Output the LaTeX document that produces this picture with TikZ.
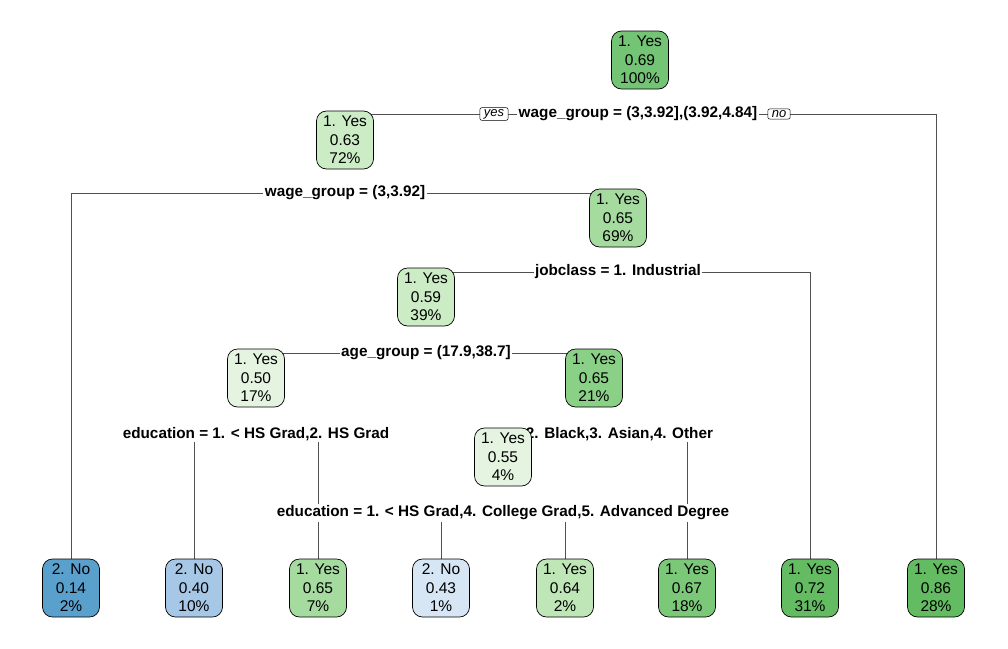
\documentclass[tikz,border=0pt]{standalone}
\usepackage{fontspec}
\setmainfont{Liberation Sans}
\pgfdeclarelayer{bg}
\pgfsetlayers{bg,main}
\definecolor{gA}{RGB}{116,196,118}
\definecolor{gB}{RGB}{204,236,198}
\definecolor{gC}{RGB}{166,219,160}
\definecolor{gD}{RGB}{229,244,225}
\definecolor{gE}{RGB}{138,208,134}
\definecolor{gF}{RGB}{190,230,182}
\definecolor{gG}{RGB}{123,200,120}
\definecolor{gH}{RGB}{99,188,97}
\definecolor{bA}{RGB}{90,160,205}
\definecolor{bB}{RGB}{166,199,229}
\definecolor{bC}{RGB}{214,230,244}
\definecolor{edge}{RGB}{80,80,80}
\tikzset{
  tnode/.style={draw=black, line width=0.7pt, rounded corners=10pt, align=center,
    minimum width=57pt, minimum height=58pt, inner sep=1pt,
    font=\fontsize{15.5}{18.5}\selectfont},
  splitlab/.style={fill=white, inner sep=1.5pt, font=\fontsize{15.3}{17}\selectfont\bfseries},
  yn/.style={draw=black, fill=white, line width=0.5pt, rounded corners=2pt,
    inner xsep=4pt, inner ysep=1.5pt, font=\fontsize{13}{13}\selectfont\itshape},
  br/.style={draw=edge, line width=0.8pt}
}
\begin{document}
\begin{tikzpicture}[x=1pt,y=-1pt]
\useasboundingbox (0,0) rectangle (1008,648);
% split labels
\node[splitlab] (s1) at (638,114) {wage\_group = (3,3.92],(3.92,4.84]};
\node[yn] (yes) at (494,114) {yes};
\node[yn] (no) at (779,114) {no};
\node[splitlab] (s2) at (345,193) {wage\_group = (3,3.92]};
\node[splitlab] (s3) at (618,272) {jobclass = 1. Industrial};
\node[splitlab] (s4) at (426,353) {age\_group = (17.9,38.7]};
\node[splitlab] (s5) at (256,434) {education = 1. < HS Grad,2. HS Grad};
\node[splitlab] (s6) at (595,434) {race = 2. Black,3. Asian,4. Other};
\node[splitlab] (s7) at (503,513) {education = 1. < HS Grad,4. College Grad,5. Advanced Degree};
% internal nodes
\node[tnode, fill=gA] (root) at (640,60) {1. Yes\\0.69\\100\%};
\node[tnode, fill=gB] (n72) at (345,140) {1. Yes\\0.63\\72\%};
\node[tnode, fill=gC] (n69) at (618,218) {1. Yes\\0.65\\69\%};
\node[tnode, fill=gB] (n39) at (426,297) {1. Yes\\0.59\\39\%};
\node[tnode, fill=gD] (n17) at (256,378) {1. Yes\\0.50\\17\%};
\node[tnode, fill=gE] (n21) at (594,378) {1. Yes\\0.65\\21\%};
\node[tnode, fill=gD] (n4) at (503,457) {1. Yes\\0.55\\4\%};
% leaves
\node[tnode, fill=bA] (l2) at (71,588) {2. No\\0.14\\2\%};
\node[tnode, fill=bB] (l10) at (194,588) {2. No\\0.40\\10\%};
\node[tnode, fill=gC] (l7) at (318,588) {1. Yes\\0.65\\7\%};
\node[tnode, fill=bC] (l1) at (441,588) {2. No\\0.43\\1\%};
\node[tnode, fill=gF] (l2b) at (565,588) {1. Yes\\0.64\\2\%};
\node[tnode, fill=gG] (l18) at (687,588) {1. Yes\\0.67\\18\%};
\node[tnode, fill=gH] (l31) at (810,588) {1. Yes\\0.72\\31\%};
\node[tnode, fill=gH] (l28) at (936,588) {1. Yes\\0.86\\28\%};
% branches
\begin{pgfonlayer}{bg}
\draw[br] (n72.center |- s1.center) -| (l28);
\draw[br] (n69.center |- s2.center) -| (l2);
\draw[br] (n39.center |- s3.center) -| (l31);
\draw[br] (n17.center |- s4.center) -- (n21.center |- s4.center);
\draw[br] (l10.center |- s5.center) -- (l10);
\draw[br] (l7.center |- s5.center) -- (l7);
\draw[br] (n4.center |- s6.center) -- (n4);
\draw[br] (l18.center |- s6.center) -- (l18);
\draw[br] (l1.center |- s7.center) -- (l1);
\draw[br] (l2b.center |- s7.center) -- (l2b);
\end{pgfonlayer}
\end{tikzpicture}
\end{document}
